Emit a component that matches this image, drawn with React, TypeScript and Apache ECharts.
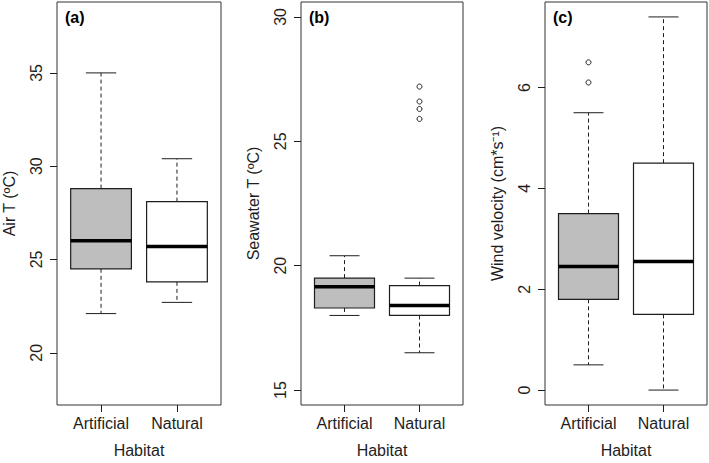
import React, { useEffect, useRef } from "react";
import * as echarts from "echarts";

const categories = ["Artificial", "Natural"];
const categoryPositions = [1, 2];

// [min(whisker), Q1, median, Q3, max(whisker)]
const airStats = [
  [22.1, 24.5, 26.0, 28.8, 35.0],
  [22.7, 23.8, 25.7, 28.1, 30.4],
];
const seaStats = [
  [18.0, 18.3, 19.15, 19.5, 20.4],
  [16.5, 18.0, 18.4, 19.2, 19.5],
];
const windStats = [
  [0.5, 1.8, 2.45, 3.5, 5.5],
  [0.0, 1.5, 2.55, 4.5, 7.4],
];
const airOutliers: number[][] = [[], []];
const seaOutliers: number[][] = [[], [25.9, 26.3, 26.6, 27.2]];
const windOutliers: number[][] = [[6.1, 6.5], []];

const airTicks = [20, 25, 30, 35];
const seaTicks = [15, 20, 25, 30];
const windTicks = [0, 2, 4, 6];

const airRange = [17.2, 38.8];
const seaRange = [14.4, 30.6];
const windRange = [-0.296, 7.696];

const boxFills = ["#bebebe", "#ffffff"];
const panelTitles = ["Air T (ºC)", "Seawater T (ºC)", "Wind velocity (cm*s⁻¹)"];
const panelTags = ["(a)", "(b)", "(c)"];

const FONT = "'Liberation Sans', Arial, Helvetica, sans-serif";
const INK = "#1e1e1e";

const grids = [
  { left: 57, top: 2, width: 164, height: 405 },
  { left: 301, top: 2, width: 162, height: 405 },
  { left: 545, top: 2, width: 162, height: 405 },
];

function renderBox(params: any, api: any) {
  const x = api.value(0);
  const v = [1, 2, 3, 4, 5].map((i) => api.value(i));
  const idx = Math.round(x) - 1;
  const half = 0.4;
  const cap = 0.2;
  const c = (xx: number, yy: number) => api.coord([xx, yy]);
  const lx = c(x - half, v[1])[0];
  const rx = c(x + half, v[1])[0];
  const cx = c(x, v[1])[0];
  const q1y = c(x, v[1])[1];
  const q3y = c(x, v[3])[1];
  const minY = c(x, v[0])[1];
  const maxY = c(x, v[4])[1];
  const medY = c(x, v[2])[1];
  const clx = c(x - cap, v[0])[0];
  const crx = c(x + cap, v[0])[0];
  const base = { stroke: INK, lineWidth: 1 };
  return {
    type: "group",
    children: [
      { type: "line", shape: { x1: cx, y1: q3y, x2: cx, y2: maxY }, style: { ...base, lineDash: [4, 3] } },
      { type: "line", shape: { x1: cx, y1: q1y, x2: cx, y2: minY }, style: { ...base, lineDash: [4, 3] } },
      { type: "line", shape: { x1: clx, y1: maxY, x2: crx, y2: maxY }, style: { ...base } },
      { type: "line", shape: { x1: clx, y1: minY, x2: crx, y2: minY }, style: { ...base } },
      {
        type: "rect",
        shape: { x: lx, y: q3y, width: rx - lx, height: q1y - q3y },
        style: { fill: boxFills[idx], stroke: INK, lineWidth: 1.2 },
      },
      { type: "line", shape: { x1: lx, y1: medY, x2: rx, y2: medY }, style: { stroke: "#000", lineWidth: 3.5 } },
    ],
  };
}

export default function App() {
  const ref = useRef<HTMLDivElement>(null);

  useEffect(() => {
    if (!ref.current) return;
    const chart = echarts.init(ref.current, null, { renderer: "svg" });

    const statsList = [airStats, seaStats, windStats];
    const outlierList = [airOutliers, seaOutliers, windOutliers];
    const tickList = [airTicks, seaTicks, windTicks];
    const rangeList = [airRange, seaRange, windRange];

    const xAxis = grids.map((_, i) => ({
      type: "value",
      gridIndex: i,
      min: 0.42,
      max: 2.58,
      name: "Habitat",
      nameLocation: "middle",
      nameGap: 37,
      nameTextStyle: { fontFamily: FONT, fontSize: 16, color: INK },
      axisLine: { show: false, onZero: false },
      splitLine: { show: false },
      axisTick: { show: true, length: 7, customValues: categoryPositions, lineStyle: { color: INK, width: 1 } },
      axisLabel: {
        customValues: categoryPositions,
        formatter: (v: number) => categories[Math.round(v) - 1] ?? "",
        fontFamily: FONT,
        fontSize: 16,
        color: INK,
        margin: 10,
      },
    }));

    const yAxis = grids.map((_, i) => ({
      type: "value",
      gridIndex: i,
      min: rangeList[i][0],
      max: rangeList[i][1],
      name: panelTitles[i],
      nameLocation: "middle",
      nameRotate: 90,
      nameGap: 40,
      nameTextStyle: { fontFamily: FONT, fontSize: 16, color: INK },
      axisLine: { show: false, onZero: false },
      splitLine: { show: false },
      axisTick: { show: true, length: 7, customValues: tickList[i], lineStyle: { color: INK, width: 1 } },
      axisLabel: {
        customValues: tickList[i],
        rotate: 90,
        fontFamily: FONT,
        fontSize: 16,
        color: INK,
        margin: 13,
      },
    }));

    const series: any[] = [];
    statsList.forEach((stats, i) => {
      series.push({
        type: "custom",
        xAxisIndex: i,
        yAxisIndex: i,
        renderItem: renderBox,
        encode: { x: 0, y: [1, 2, 3, 4, 5] },
        data: stats.map((s, k) => [categoryPositions[k], ...s]),
        silent: true,
      });
      const pts: number[][] = [];
      outlierList[i].forEach((arr, k) => arr.forEach((v) => pts.push([categoryPositions[k], v])));
      if (pts.length) {
        series.push({
          type: "scatter",
          xAxisIndex: i,
          yAxisIndex: i,
          symbol: "circle",
          symbolSize: 5,
          itemStyle: { color: "rgba(0,0,0,0)", borderColor: INK, borderWidth: 1, opacity: 1 },
          data: pts,
          silent: true,
        });
      }
    });

    chart.setOption({
      animation: false,
      backgroundColor: "#ffffff",
      grid: grids.map((g) => ({
        ...g,
        show: true,
        borderColor: "#333",
        borderWidth: 1,
        backgroundColor: "rgba(0,0,0,0)",
        containLabel: false,
      })),
      xAxis,
      yAxis,
      series,
      graphic: grids.map((g, i) => ({
        type: "text",
        left: g.left + 8,
        top: 9,
        style: { text: panelTags[i], fontFamily: FONT, fontSize: 16, fontWeight: "bold", fill: "#000" },
      })),
    });

    return () => chart.dispose();
  }, []);

  return (
    <div
      ref={ref}
      style={{ position: "fixed", left: 0, top: 0, width: 709, height: 463, background: "#fff" }}
    />
  );
}
